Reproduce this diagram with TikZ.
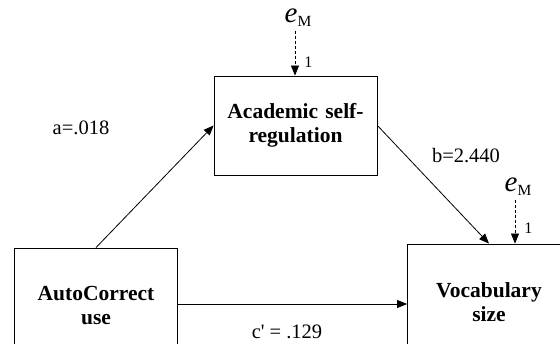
\documentclass[tikz,border=0pt]{standalone}
\usepackage{fontspec}
\setmainfont{Liberation Serif}
\usetikzlibrary{arrows.meta}

\tikzstyle{varbox} = [rectangle, minimum width=163pt, text width=155pt, align=center, draw=black, line width=0.8pt, font=\bfseries\fontsize{21.5}{24}\selectfont]
\tikzstyle{arrow} = [line width=0.8pt,-{Triangle[length=10pt,width=8pt]}]
\tikzstyle{errarrow} = [arrow, dash pattern=on 3pt off 2pt]
\tikzstyle{coef} = [font=\fontsize{20.5}{24}\selectfont]
\tikzstyle{errnode} = [inner sep=0.5pt]
\tikzstyle{onelabel} = [font=\fontsize{16}{16}\selectfont, right, inner sep=0pt, xshift=9pt]

\newcommand{\errterm}{{\fontsize{29}{29}\selectfont\itshape e}\raisebox{-4pt}{\fontsize{15.5}{15.5}\selectfont M}}

\begin{document}
\begin{tikzpicture}[x=1pt, y=-1pt]
			\useasboundingbox (0,0) rectangle (560,344);
			\clip (0,0) rectangle (560,344);

			\node (asr) [varbox, minimum height=99pt] at (295.5,125.5) {Academic self-\\regulation};
			\node (auto) [varbox, minimum height=116pt] at (96,306) {AutoCorrect\\use};
			\node (vocab) [varbox, minimum height=116pt] at (489,302) {Vocabulary\\size};

			\node (eM1) [errnode] at (298,18) {\errterm};
			\node (eM2) [errnode] at (518,187) {\errterm};

			\node (lblA) [coef] at (81,128) {a=.018};
			\node (lblB) [coef] at (466,156) {b=2.440};
			\node (lblC) [coef] at (287,332) {c\textquotesingle{} = .129};

			\draw [arrow] (auto.north) -- (asr.west);
			\draw [arrow] (asr.east) -- (vocab.north);
			\draw [arrow] ([yshift=2pt]auto.east) -- ([yshift=2pt]auto.east -| vocab.west);
			\draw [errarrow] ([xshift=-3pt,yshift=-3pt]eM1.south) -- ([xshift=-3pt]eM1.south |- asr.north) node[onelabel, pos=0.7] {1};
			\draw [errarrow] ([xshift=-3pt,yshift=-3pt]eM2.south) -- ([xshift=-3pt]eM2.south |- vocab.north) node[onelabel, pos=0.65] {1};
		\end{tikzpicture}
\end{document}
